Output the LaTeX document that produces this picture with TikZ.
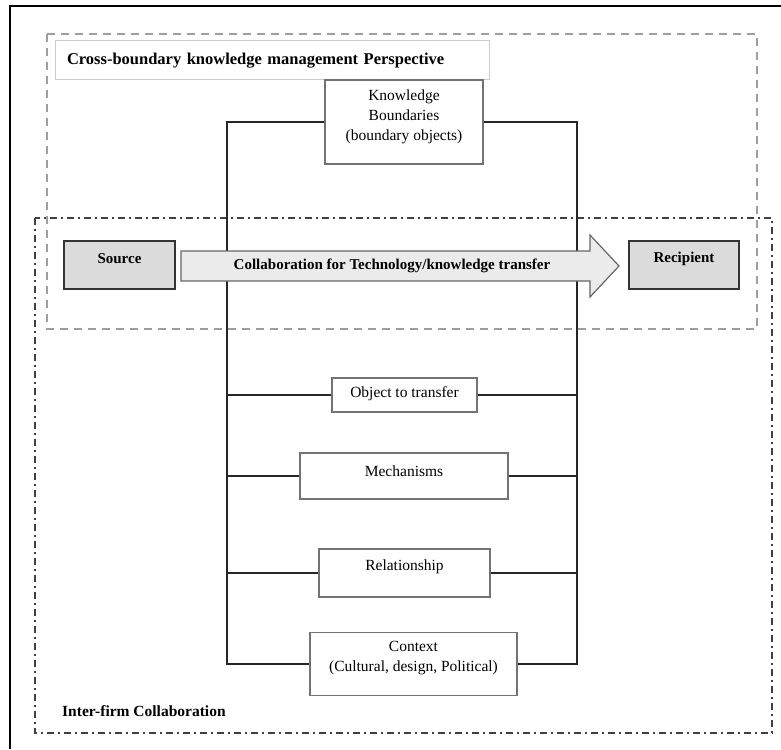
\documentclass[tikz,border=0pt]{standalone}
\usepackage{fontspec}
\setmainfont{Liberation Serif}
\begin{document}
\begin{tikzpicture}[x=1pt,y=-1pt,
  box/.style={draw=black!55,line width=1.3pt,fill=white,inner sep=0pt},
  txt/.style={inner sep=0pt,align=center,font=\fontsize{15.5}{20}\selectfont},
  shadedbox/.style={draw=black!80,line width=1.5pt,fill=black!14,inner sep=0pt},
  boldtxt/.style={inner sep=0pt,align=center,font=\fontsize{15}{18}\selectfont\bfseries},
  conn/.style={draw=black!85,line width=1.1pt},
  kmframe/.style={draw=black!38,line width=2.8pt,dash pattern=on 8pt off 6pt},
  ifframe/.style={draw=black!75,line width=1.8pt,dash pattern=on 7pt off 4pt on 2pt off 4pt},
  bigarrow/.style={draw=black!60,line width=1.2pt,fill=black!8}]
\useasboundingbox (0,0) rectangle (781,749);
% outer frame (top and left visible)
\draw[black,line width=1.5pt] (10,749) -- (10,6) -- (781,6);
% perspective frames
\draw[kmframe] (47,34) rectangle (757,329);
\draw[ifframe] (35,218) rectangle (772,733);
% bus coordinates
\coordinate (lt) at (227,122);
\coordinate (lb) at (227,664);
\coordinate (rt) at (577,122);
\coordinate (rb) at (577,664);
% title
\node[draw=black!20,line width=1pt,fill=white,minimum width=434pt,minimum height=39pt,
  inner sep=0pt,text width=410pt,align=left,font=\fontsize{16.5}{20}\selectfont\bfseries]
  (title) at (272,60.5) {Cross-boundary knowledge management Perspective};
% boxes
\node[box,minimum width=158pt,minimum height=84pt] (kb) at (404,122) {};
\node[box,minimum width=145pt,minimum height=34pt] (obj) at (404.5,395) {};
\node[box,minimum width=208pt,minimum height=46pt] (mech) at (404,476) {};
\node[box,minimum width=171pt,minimum height=48pt] (rel) at (404.5,573) {};
\node[box,minimum width=207pt,minimum height=63pt] (ctx) at (413.5,664) {};
\node[txt] (kbt) at ([yshift=5pt]kb.center) {Knowledge\\Boundaries\\(boundary objects)};
\node[txt] (objt) at ([yshift=1.5pt]obj.center) {Object to transfer};
\node[txt] (mecht) at ([yshift=5pt]mech.center) {Mechanisms};
\node[txt] (relt) at ([yshift=6pt]rel.center) {Relationship};
\node[txt] (ctxt) at ([yshift=6pt]ctx.center) {Context\\(Cultural, design, Political)};
% connectors
\draw[conn] (kb.west) -- (lt) -- (lb) -- (ctx.west);
\draw[conn] (kb.east) -- (rt) -- (rb) -- (ctx.east);
\draw[conn] (obj.west) -- (obj.west -| lt);
\draw[conn] (obj.east) -- (obj.east -| rt);
\draw[conn] (mech.west) -- (mech.west -| lt);
\draw[conn] (mech.east) -- (mech.east -| rt);
\draw[conn] (rel.west) -- (rel.west -| lt);
\draw[conn] (rel.east) -- (rel.east -| rt);
% source / recipient
\node[shadedbox,minimum width=111pt,minimum height=48pt] (src) at (119.5,265) {};
\node[shadedbox,minimum width=110pt,minimum height=48pt] (rcp) at (684,265) {};
\node[boldtxt] (srct) at ([yshift=6pt]src.center) {Source};
\node[boldtxt] (rcpt) at ([yshift=6pt]rcp.center) {Recipient};
% big arrow
\draw[bigarrow] (181,251) -- (590,251) -- (590,235) -- (619,266) -- (590,297) -- (590,281) -- (181,281) -- cycle;
\node[boldtxt] (collab) at (392,266)
  {Collaboration for Technology/knowledge transfer};
% frame label
\node[anchor=west,inner sep=0pt,font=\fontsize{15.5}{18}\selectfont\bfseries] (ifl) at (62,711)
  {Inter-firm Collaboration};
\end{tikzpicture}
\end{document}
